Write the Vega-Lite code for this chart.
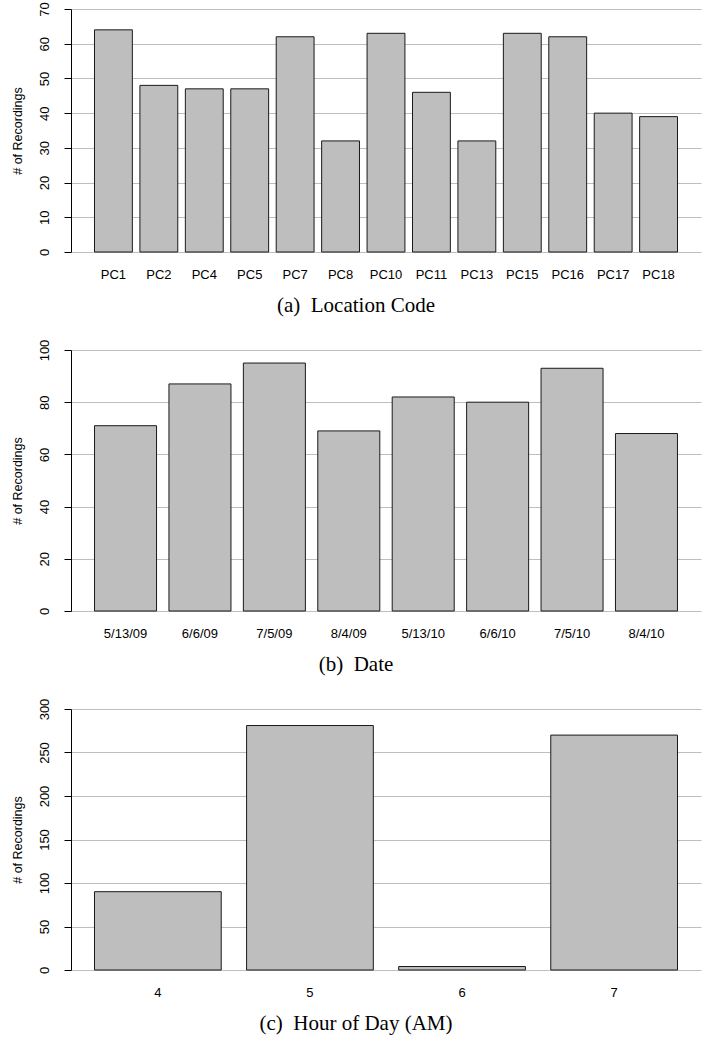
{
  "$schema": "https://vega.github.io/schema/vega-lite/v6.json",
  "background": "white",
  "padding": {"left": 10, "top": 1, "right": 5, "bottom": 5},
  "spacing": 98,
  "bounds": "flush",
  "config": {
    "view": {"stroke": null},
    "font": "Liberation Sans",
    "axisX": {
      "domain": false, "ticks": false, "tickSize": 0, "grid": false,
      "labelAngle": 0, "labelPadding": 16, "labelFontSize": 13,
      "labelFont": "Liberation Sans", "labelColor": "black", "title": null
    },
    "axisY": {
      "domain": true, "domainColor": "black", "domainWidth": 1,
      "ticks": true, "tickColor": "black", "tickSize": 7, "tickWidth": 1,
      "grid": true, "gridColor": "#bebebe", "gridWidth": 1,
      "labelAngle": 270, "labelAlign": "center", "labelBaseline": "alphabetic",
      "labelPadding": 16, "labelFontSize": 13, "labelFont": "Liberation Sans",
      "labelColor": "black",
      "titleFont": "Liberation Sans", "titleFontSize": 12.5, "titleFontWeight": "normal",
      "titleColor": "black", "titlePadding": 14
    },
    "title": {
      "orient": "bottom", "frame": "bounds", "anchor": "middle",
      "font": "Liberation Serif", "fontSize": 21, "fontWeight": "normal",
      "color": "black", "offset": 14
    }
  },
  "vconcat": [
    {
      "width": 630, "height": 243,
      "title": {"text": "(a)\u00a0 Location Code"},
      "data": {"values": [
        {"code": "PC1", "n": 64}, {"code": "PC2", "n": 48}, {"code": "PC4", "n": 47},
        {"code": "PC5", "n": 47}, {"code": "PC7", "n": 62}, {"code": "PC8", "n": 32},
        {"code": "PC10", "n": 63}, {"code": "PC11", "n": 46}, {"code": "PC13", "n": 32},
        {"code": "PC15", "n": 63}, {"code": "PC16", "n": 62}, {"code": "PC17", "n": 40},
        {"code": "PC18", "n": 39}
      ]},
      "mark": {"type": "bar", "fill": "#bebebe", "stroke": "#1a1a1a", "strokeWidth": 1},
      "encoding": {
        "x": {"field": "code", "type": "nominal", "sort": null,
              "scale": {"paddingInner": 0.1667, "paddingOuter": 0.517}},
        "y": {"field": "n", "type": "quantitative",
              "scale": {"domain": [0, 70], "nice": false},
              "axis": {"values": [0, 10, 20, 30, 40, 50, 60, 70], "title": "# of Recordings"}}
      }
    },
    {
      "width": 630, "height": 261,
      "title": {"text": "(b)\u00a0 Date"},
      "data": {"values": [
        {"date": "5/13/09", "n": 71}, {"date": "6/6/09", "n": 87}, {"date": "7/5/09", "n": 95},
        {"date": "8/4/09", "n": 69}, {"date": "5/13/10", "n": 82}, {"date": "6/6/10", "n": 80},
        {"date": "7/5/10", "n": 93}, {"date": "8/4/10", "n": 68}
      ]},
      "mark": {"type": "bar", "fill": "#bebebe", "stroke": "#1a1a1a", "strokeWidth": 1},
      "encoding": {
        "x": {"field": "date", "type": "nominal", "sort": null,
              "scale": {"paddingInner": 0.1667, "paddingOuter": 0.316}},
        "y": {"field": "n", "type": "quantitative",
              "scale": {"domain": [0, 100], "nice": false},
              "axis": {"values": [0, 20, 40, 60, 80, 100], "title": "# of Recordings"}}
      }
    },
    {
      "width": 630, "height": 261,
      "title": {"text": "(c)\u00a0 Hour of Day (AM)"},
      "data": {"values": [
        {"hour": "4", "n": 90}, {"hour": "5", "n": 281},
        {"hour": "6", "n": 4}, {"hour": "7", "n": 270}
      ]},
      "mark": {"type": "bar", "fill": "#bebebe", "stroke": "#1a1a1a", "strokeWidth": 1},
      "encoding": {
        "x": {"field": "hour", "type": "nominal", "sort": null,
              "scale": {"paddingInner": 0.1667, "paddingOuter": 0.1545}},
        "y": {"field": "n", "type": "quantitative",
              "scale": {"domain": [0, 300], "nice": false},
              "axis": {"values": [0, 50, 100, 150, 200, 250, 300], "title": "# of Recordings"}}
      }
    }
  ]
}
